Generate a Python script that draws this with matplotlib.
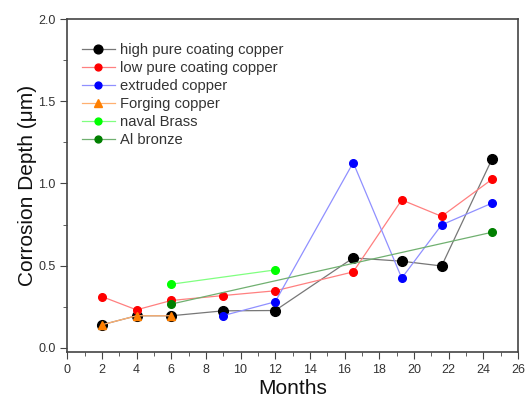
import matplotlib
matplotlib.use("Agg")
import matplotlib.pyplot as plt
from matplotlib.ticker import MultipleLocator

plt.rcParams['font.family'] = ['Liberation Sans', 'DejaVu Sans']

hp_x = [2, 4, 6, 9, 12, 16.5, 19.3, 21.6, 24.5]
hp_y = [0.14, 0.195, 0.195, 0.225, 0.227, 0.547, 0.527, 0.498, 1.147]
lp_x = [2, 4, 6, 9, 12, 16.5, 19.3, 21.6, 24.5]
lp_y = [0.312, 0.231, 0.288, 0.318, 0.347, 0.462, 0.90, 0.80, 1.025]
ex_x = [9, 12, 16.5, 19.3, 21.6, 24.5]
ex_y = [0.196, 0.28, 1.127, 0.424, 0.748, 0.88]
fo_x = [2, 4, 6]
fo_y = [0.14, 0.195, 0.195]
nb_x = [6, 12]
nb_y = [0.387, 0.474]
ab_x = [6, 24.5]
ab_y = [0.266, 0.703]

fig = plt.figure(figsize=(5.29, 3.99), dpi=100)
ax = fig.add_axes([0.127, 0.118, 0.852, 0.834])

ax.plot(hp_x, hp_y, color='#777777', lw=0.9, marker='o', ms=7, mfc='black', mec='black',
        label='high pure coating copper', zorder=3)
ax.plot(lp_x, lp_y, color='#ff8080', lw=0.9, marker='o', ms=5.5, mfc='red', mec='red',
        label='low pure coating copper', zorder=3)
ax.plot(ex_x, ex_y, color='#9090ff', lw=0.9, marker='o', ms=5.5, mfc='blue', mec='blue',
        label='extruded copper', zorder=3)
ax.plot(fo_x, fo_y, color='#ffb070', lw=0.9, marker='^', ms=6, mfc='#ff7f00', mec='#ff7f00',
        label='Forging copper', zorder=4)
ax.plot(nb_x, nb_y, color='#80ff80', lw=0.9, marker='o', ms=5.5, mfc='#00ff00', mec='#00ff00',
        label='naval Brass', zorder=3)
ax.plot(ab_x, ab_y, color='#70b070', lw=0.9, marker='o', ms=5.5, mfc='green', mec='green',
        label='Al bronze', zorder=3)

ax.set_xlim(0, 26)
ax.set_ylim(-0.025, 2.0)
ax.xaxis.set_major_locator(MultipleLocator(2))
ax.xaxis.set_minor_locator(MultipleLocator(1))
ax.yaxis.set_minor_locator(MultipleLocator(0.25))
ax.set_yticks([0, 0.5, 1.0, 1.5, 2.0])
ax.set_yticklabels(['0.0', '0.5', '1.0', '1.5', '2.0'])
ax.tick_params(axis='both', which='major', direction='out', length=5, labelsize=9,
               labelcolor='#333333', color='#444444')
ax.tick_params(axis='both', which='minor', direction='out', length=3, color='#444444')
for s in ax.spines.values():
    s.set_color('#444444')
    s.set_linewidth(1.2)

ax.set_xlabel('Months', fontsize=15, labelpad=2, color='#111111')
ax.set_ylabel('Corrosion Depth (μm)', fontsize=15, labelpad=1, color='#111111')

leg = ax.legend(loc='upper left', frameon=False, fontsize=10.6, bbox_to_anchor=(0.019, 0.947),
                borderaxespad=0, handlelength=2.25, handletextpad=0.35, labelspacing=0.28,
                markerscale=0.9)
for t in leg.get_texts():
    t.set_color('#333333')

fig.savefig('out.png', dpi=100)
